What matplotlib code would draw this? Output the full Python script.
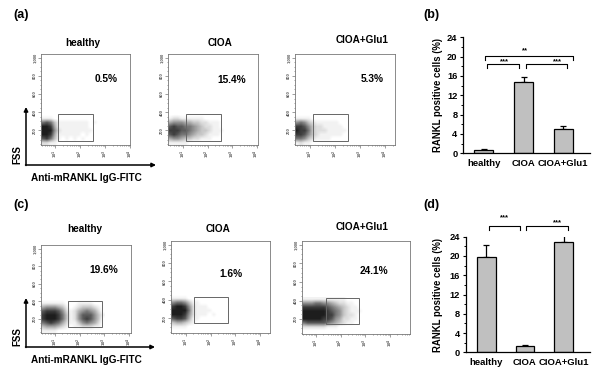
import numpy as np
import matplotlib
matplotlib.use('Agg')
import matplotlib.pyplot as plt
from matplotlib.colors import LinearSegmentedColormap, PowerNorm
from matplotlib.patches import Rectangle
from matplotlib.ticker import FixedLocator, MultipleLocator

plt.rcParams['font.family'] = ['Liberation Sans', 'DejaVu Sans']
plt.rcParams['font.weight'] = 'bold'

# ---------------- data ----------------
groups = ['healthy', 'CIOA', 'CIOA+Glu1']
pct_b = [0.6, 14.7, 5.0]
err_b = [0.2, 1.0, 0.7]
pct_d = [19.8, 1.3, 22.9]
err_d = [2.5, 0.2, 1.6]
bar_ticks = [0, 4, 8, 12, 16, 20, 24]

gate_pct_a = ['0.5%', '15.4%', '5.3%']
gate_pct_c = ['19.6%', '1.6%', '24.1%']

fitc_ticks = [1, 2, 3, 4]
fitc_labels = ['10$^1$', '10$^2$', '10$^3$', '10$^4$']
fss_ticks = [200, 400, 600, 800, 1000]
fss_labels = ['200', '400', '600', '800', '1,000']

# dot-plot densities (0-9), rows top -> bottom
dens_a1 = ["000000000000000",
           "111000000000000",
           "676311111111010",
           "998411111111000",
           "999521111111100",
           "998411111101000",
           "786310101010000",
           "221100000000000"]
dens_a2 = ["000000000000000",
           "122111111000000",
           "455544332211100",
           "787766543221100",
           "888776543321110",
           "787665433211100",
           "455433221110000",
           "111110000000000"]
dens_a3 = ["000000000000000",
           "111100000000000",
           "565321111110000",
           "887532211111000",
           "988632221111100",
           "887532111111000",
           "665321111000000",
           "121100000000000"]
dens_c1 = ["0000000000000000",
           "1111110001111000",
           "4555431012333210",
           "7888752124565420",
           "8999863125777531",
           "8999863125787530",
           "6787642113565420",
           "3444321011222110",
           "1111000000000000"]
dens_c2 = ["000000000000",
           "111100000000",
           "566531100000",
           "899852111000",
           "999962111100",
           "999852111010",
           "788741100000",
           "344321000000",
           "111100000000",
           "000000000000"]
dens_c3 = ["1111111111100000",
           "5556655432211000",
           "8888887654321100",
           "9999998765321110",
           "9999998865322100",
           "9999988754221100",
           "6777776543211000",
           "2222221110000000",
           "0000000000000000"]

# ---------------- layout ----------------
fig = plt.figure(figsize=(6, 3.79), dpi=100)
W, H = 600.0, 379.0

def frac(l, t, r, b):
    return [l / W, 1 - b / H, (r - l) / W, (b - t) / H]

dot_cmap = LinearSegmentedColormap.from_list('dots', [(0, 0, 0, 0), (0.05, 0.05, 0.05, 0.93)])
gate_col = '#666666'
frame_col = '#777777'

flow_specs = [
    # rect(px), xlim, density, extent, gate, pct, pct_pos
    (frac(41, 54, 130, 145), (0.44, 4.0), dens_a1, (0.44, 2.84, 40, 392), (1.13, 2.53, 87, 377), gate_pct_a[0], (3.04, 765)),
    (frac(168, 54, 258, 145), (0.376, 4.05), dens_a2, (0.376, 2.82, 40, 392), (1.11, 2.53, 87, 377), gate_pct_a[1], (2.99, 754)),
    (frac(295, 54, 395, 145), (0.40, 4.40), dens_a3, (0.40, 2.80, 40, 392), (1.13, 2.52, 87, 377), gate_pct_a[2], (3.47, 762)),
    (frac(41, 245, 131, 333), (0.433, 4.08), dens_c1, (0.433, 3.02, 40, 449), (1.54, 2.91, 108, 404), gate_pct_c[0], (2.98, 756)),
    (frac(171, 241, 270, 333), (0.39, 4.40), dens_c2, (0.39, 2.34, 40, 475), (1.34, 2.71, 145, 431), gate_pct_c[1], (2.82, 681)),
    (frac(302, 241, 410, 334), (0.43, 4.81), dens_c3, (0.43, 3.02, 51, 438), (1.39, 2.75, 144, 424), gate_pct_c[2], (3.35, 717)),
]

log_minor = [d + np.log10(k) for d in range(0, 5) for k in range(2, 10)]

for rect, xlim, dens, ext, gate, pct, ppos in flow_specs:
    ax = fig.add_axes(rect)
    arr = np.array([[int(c) for c in row] for row in dens], dtype=float)
    ax.imshow(arr, cmap=dot_cmap, norm=PowerNorm(1.3, vmin=0, vmax=9), extent=ext,
              aspect='auto', interpolation='bilinear', origin='upper', zorder=1)
    ax.set_xlim(xlim)
    ax.set_ylim(40, 1040)
    ax.add_patch(Rectangle((gate[0], gate[2]), gate[1] - gate[0], gate[3] - gate[2],
                           fill=False, ec=gate_col, lw=0.7, zorder=3))
    ax.text(ppos[0], ppos[1], pct, ha='center', va='center', fontsize=7.3, fontweight='bold')
    ax.set_xticks(fitc_ticks)
    ax.set_xticklabels(fitc_labels, rotation=90, fontsize=3, color='#555555')
    ax.xaxis.set_minor_locator(FixedLocator(log_minor))
    ax.set_yticks(fss_ticks)
    ax.set_yticklabels(fss_labels, rotation=90, fontsize=3, color='#555555', va='center')
    ax.yaxis.set_minor_locator(MultipleLocator(50))
    ax.tick_params(which='both', direction='out', color=frame_col, width=0.5, pad=1)
    ax.tick_params(which='major', length=2)
    ax.tick_params(which='minor', length=1)
    for s in ax.spines.values():
        s.set_color(frame_col)
        s.set_linewidth(0.6)

# ---------------- bar charts ----------------
def bar_axis(rect, vals, errs, ylab_x, brackets, stars):
    ax = fig.add_axes(rect)
    x = np.arange(len(groups))
    ax.errorbar(x, vals, yerr=[np.zeros(len(vals)), errs], fmt='none', ecolor='black',
                elinewidth=0.9, capsize=2.2, capthick=0.9, zorder=1)
    ax.bar(x, vals, width=0.48, color='#c0c0c0', edgecolor='black', linewidth=0.9, zorder=2)
    ax.set_ylim(0, 24)
    ax.set_xlim(-0.53, 2.68)
    ax.set_yticks(bar_ticks)
    ax.yaxis.set_minor_locator(MultipleLocator(2))
    ax.set_xticks(x)
    ax.set_xticklabels(groups, fontsize=6.8, fontweight='bold')
    ax.tick_params(axis='y', which='major', length=2.5, width=0.8, pad=1.5, labelsize=6.7)
    ax.tick_params(axis='y', which='minor', length=1.3, width=0.7)
    ax.tick_params(axis='x', length=0, pad=4)
    for lab in ax.get_yticklabels():
        lab.set_fontweight('bold')
    ax.spines['top'].set_visible(False)
    ax.spines['right'].set_visible(False)
    ax.spines['left'].set_linewidth(0.9)
    ax.spines['bottom'].set_linewidth(0.9)
    ax.text(ylab_x, 0.5, 'RANKL positive cells (%)', rotation=90, ha='center', va='center',
            fontsize=6.9, fontweight='bold', transform=ax.transAxes)
    for (x0, x1, yl, yd) in brackets:
        ax.plot([x0, x0, x1, x1], [yd, yl, yl, yd], color='black', lw=0.8, clip_on=False)
    for (xs, ys, s) in stars:
        ax.text(xs, ys, s, ha='center', va='baseline', fontsize=5.5, fontweight='bold', clip_on=False)
    return ax

bar_axis(frac(463, 37.3, 590, 153.3), pct_b, err_b, -0.197,
         [(0.03, 2.24, 20.2, 19.3), (0.08, 0.89, 18.5, 17.6), (1.06, 2.11, 18.5, 17.6)],
         [(1.04, 20.9, '**'), (0.53, 18.7, '***'), (1.85, 18.7, '***')])

bar_axis(frac(465.7, 236.7, 590, 352.3), pct_d, err_d, -0.22,
         [(0.06, 0.88, 26.3, 25.3), (1.04, 2.11, 26.3, 25.3)],
         [(0.46, 27.7, '***'), (1.85, 26.5, '***')])

# ---------------- annotations overlay ----------------
ov = fig.add_axes([0, 0, 1, 1], zorder=10)
ov.set_xlim(0, W)
ov.set_ylim(H, 0)
ov.axis('off')
ov.patch.set_alpha(0)

for lab, (lx, ly) in zip(['(a)', '(b)', '(c)', '(d)'], [(13, 15), (423, 15), (13, 205), (423, 205)]):
    ov.text(lx, ly, lab, ha='left', va='center', fontsize=9, fontweight='bold')

for name, (tx, ty) in zip(groups, [(83, 43), (220, 43), (362, 40)]):
    ov.text(tx, ty, name, ha='center', va='center', fontsize=7.2, fontweight='bold')
for name, (tx, ty) in zip(groups, [(85, 229), (218, 229), (362, 227)]):
    ov.text(tx, ty, name, ha='center', va='center', fontsize=7.2, fontweight='bold')

arrow_kw = dict(arrowstyle='-|>', lw=1.1, color='black', mutation_scale=6, shrinkA=0, shrinkB=0)
for (cx, cy, top, right) in [(26, 165, 107, 156), (26, 347, 298, 155)]:
    ov.annotate('', xy=(cx, top), xytext=(cx, cy + 0.5), arrowprops=arrow_kw)
    ov.annotate('', xy=(right, cy), xytext=(cx - 0.5, cy), arrowprops=arrow_kw)
    ov.text(cx - 4, cy - 1, 'FSS', rotation=90, ha='right', va='bottom', fontsize=7, fontweight='bold')
    ov.text(86.5, cy + 13, 'Anti-mRANKL IgG-FITC', ha='center', va='center', fontsize=7.2, fontweight='bold')

fig.savefig('out.png', dpi=100)
